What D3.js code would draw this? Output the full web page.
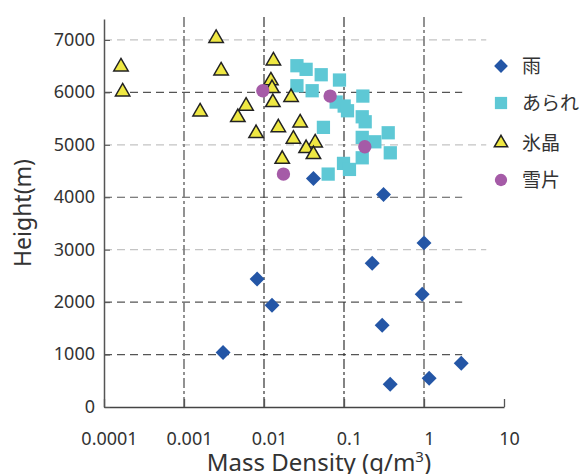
<!DOCTYPE html>
<html>
<head>
<meta charset="utf-8">
<script src="https://cdn.jsdelivr.net/npm/d3@7"></script>
<style>
  body { margin: 0; background: #fff; }
  svg text { font-family: "Noto Sans", "Noto Sans CJK JP", sans-serif; fill: #333; }
  .legend text { font-family: "Noto Sans CJK JP", sans-serif; }
</style>
</head>
<body>
<div id="chart"></div>
<script>
// 雨
const rainX = [0.00308, 0.0082, 0.0126, 0.0415, 0.312, 0.225, 1.0, 0.95, 0.30, 2.92, 1.16, 0.378]
const rainY = [1040, 2440, 1940, 4360, 4054, 2743, 3130, 2151, 1559, 834, 548, 433]

// あられ
const hailX = [0.0258, 0.0336, 0.0519, 0.0878, 0.0258, 0.040, 0.172, 0.0798, 0.1005, 0.1106, 0.169,
               0.184, 0.0553, 0.357, 0.169, 0.243, 0.379, 0.169, 0.0986, 0.117, 0.0634]
const hailY = [6509, 6440, 6337, 6236, 6127, 6032, 5930, 5816, 5740, 5650, 5535,
               5440, 5333, 5230, 5142, 5058, 4848, 4753, 4646, 4531, 4442]

// 氷晶
const iceX = [0.00252, 0.000163, 0.00291, 0.0131, 0.0122, 0.0126, 0.000171, 0.0218, 0.00597, 0.0129,
              0.00159, 0.00471, 0.0151, 0.00796, 0.0283, 0.0233, 0.0436, 0.0336, 0.0415, 0.0169]
const iceY = [7032, 6490, 6413, 6604, 6223, 6077, 6013, 5906, 5740, 5810,
              5631, 5524, 5329, 5219, 5421, 5110, 5039, 4932, 4818, 4728]

// 雪片
const snowX = [0.00966, 0.0671, 0.182, 0.0175]
const snowY = [6032, 5930, 4963, 4442]

const seriesNames = ['雨', 'あられ', '氷晶', '雪片']
const xTicks = [0.0001, 0.001, 0.01, 0.1, 1, 10]
const xTickLabels = ['0.0001', '0.001', '0.01', '0.1', '1', '10']
const yTicks = [0, 1000, 2000, 3000, 4000, 5000, 6000, 7000]
const lightRows = [3000, 5000, 7000]

const width = 587, height = 474
const margin = { top: 19, right: 83, bottom: 67, left: 104 }

const svg = d3.select('#chart')
  .append('svg')
  .attr('width', width)
  .attr('height', height)

const x = d3.scaleLog()
  .domain([0.0001, 10])
  .range([margin.left, width - margin.right])

const y = d3.scaleLinear()
  .domain([0, 7400])
  .range([height - margin.bottom, margin.top])

// grid
svg.append('g')
  .selectAll('line')
  .data(yTicks.slice(1))
  .join('line')
  .attr('x1', margin.left)
  .attr('x2', d => lightRows.includes(d) ? x(6) : x(3))
  .attr('y1', d => y(d))
  .attr('y2', d => y(d))
  .attr('stroke', d => lightRows.includes(d) ? '#c4c4c4' : '#555')
  .attr('stroke-width', 1.2)
  .attr('stroke-dasharray', '8,5')

svg.append('g')
  .selectAll('line')
  .data(xTicks.slice(1, -1))
  .join('line')
  .attr('x1', d => x(d))
  .attr('x2', d => x(d))
  .attr('y1', y(0))
  .attr('y2', margin.top - 4)
  .attr('stroke', (d, i) => (i == 0 || i == 3) ? '#777' : '#333')
  .attr('stroke-width', (d, i) => (i == 0 || i == 3) ? 1.6 : 1.2)
  .attr('stroke-dasharray', '10,3,3,3')

// axes
const xAxis = svg.append('g')
  .attr('transform', `translate(0,${y(0)})`)
  .call(d3.axisBottom(x)
    .tickValues(xTicks)
    .tickFormat((d, i) => xTickLabels[i])
    .tickSizeInner(-8)
    .tickSizeOuter(0)
    .tickPadding(25))

xAxis.select('.domain').attr('stroke', '#444').attr('stroke-width', 1.5)
xAxis.selectAll('.tick line').attr('stroke', '#555').attr('stroke-width', 1.3)
xAxis.selectAll('.tick text')
  .attr('font-size', 18)
  .attr('dx', 5)
  .style('font-family', '"Noto Sans", sans-serif')
  .attr('fill', '#333')

const yAxis = svg.append('g')
  .attr('transform', `translate(${margin.left},0)`)
  .call(d3.axisLeft(y)
    .tickValues(yTicks)
    .tickFormat(d3.format('d'))
    .tickSizeInner(-6)
    .tickSizeOuter(0)
    .tickPadding(9))

yAxis.select('.domain').attr('stroke', '#555').attr('stroke-width', 1.5)
yAxis.selectAll('.tick line').attr('stroke', '#555')
yAxis.selectAll('.tick text')
  .attr('font-size', 18)
  .attr('dy', '0.3em')
  .style('font-family', '"Noto Sans", sans-serif')
  .attr('fill', '#333')

// titles
svg.append('text')
  .attr('transform', `translate(31,${(y(0) + y(7400)) / 2}) rotate(-90)`)
  .attr('text-anchor', 'middle')
  .attr('font-size', 23)
  .text('Height(m)')

const xt = svg.append('text')
  .attr('x', 319)
  .attr('y', 471)
  .attr('text-anchor', 'middle')
  .attr('font-size', 24)
xt.append('tspan').text('Mass Density (g/m')
xt.append('tspan').attr('font-size', 15).attr('dy', -9).text('3')
xt.append('tspan').attr('dy', 9).text(')')

// marks
const styles = [
  { type: d3.symbolSquare, size: 112, fill: '#2456a6', stroke: 'none', rotate: 45 },
  { type: d3.symbolSquare, size: 176, fill: '#5ec8d5', stroke: 'none', rotate: 0 },
  { type: d3.symbolTriangle, size: 90, fill: '#efe843', stroke: '#222', rotate: 0 },
  { type: d3.symbolCircle, size: 140, fill: '#a55ba7', stroke: 'none', rotate: 0 }
]

const series = [
  d3.zip(rainX, rainY),
  d3.zip(hailX, hailY),
  d3.zip(iceX, iceY),
  d3.zip(snowX, snowY)
]

series.forEach((pts, i) => {
  const s = styles[i]
  svg.append('g')
    .selectAll('path')
    .data(pts)
    .join('path')
    .attr('d', d3.symbol().type(s.type).size(s.size))
    .attr('transform', d => `translate(${x(d[0])},${y(d[1])}) rotate(${s.rotate})`)
    .attr('fill', s.fill)
    .attr('stroke', s.stroke)
    .attr('stroke-width', 1.5)
})

// legend
const legendY = [66, 103, 143, 180]
const legend = svg.append('g')
  .attr('class', 'legend')
  .selectAll('g')
  .data(seriesNames)
  .join('g')
  .attr('transform', (d, i) => `translate(501,${legendY[i]})`)

legend.append('path')
  .attr('d', (d, i) => d3.symbol().type(styles[i].type).size(styles[i].size * 0.85)())
  .attr('transform', (d, i) => `rotate(${styles[i].rotate})`)
  .attr('fill', (d, i) => styles[i].fill)
  .attr('stroke', (d, i) => styles[i].stroke)
  .attr('stroke-width', 1.5)

legend.append('text')
  .attr('x', 21)
  .attr('dy', '0.36em')
  .attr('font-size', 19)
  .text(d => d)
</script>
</body>
</html>
